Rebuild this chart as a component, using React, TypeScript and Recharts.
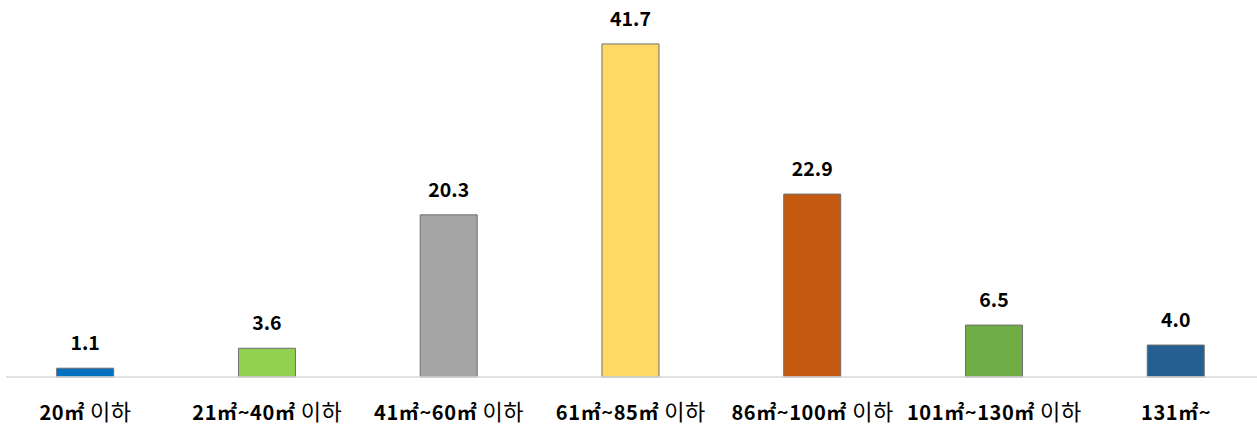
import React from "react";
import { BarChart, Bar, XAxis, YAxis, Cell, LabelList } from "recharts";

const categories = ["20㎡ 이하", "21㎡~40㎡ 이하", "41㎡~60㎡ 이하", "61㎡~85㎡ 이하", "86㎡~100㎡ 이하", "101㎡~130㎡ 이하", "131㎡~"];
const values = [1.1, 3.6, 20.3, 41.7, 22.9, 6.5, 4.0];
const colors = ["#0070C0", "#92D050", "#A5A5A5", "#FFD966", "#C55A11", "#70AD47", "#255E91"];

const data = categories.map((name, i) => ({ name, value: values[i] }));

const FONT = "'Noto Sans CJK KR', 'Noto Sans', sans-serif";

function splitSegments(s: string) {
  const segs: { text: string; hangul: boolean }[] = [];
  for (const ch of s) {
    const h = /[\uAC00-\uD7A3]/.test(ch);
    const last = segs[segs.length - 1];
    if (last && last.hangul === h) last.text += ch;
    else segs.push({ text: ch, hangul: h });
  }
  return segs;
}

function Tick(props: any) {
  const { x, y, payload } = props;
  const segs = splitSegments(String(payload.value));
  return (
    <text x={x} y={y} textAnchor="middle" fill="#000" fontFamily={FONT} fontSize={20} letterSpacing={0.6}>
      {segs.map((s, i) => (
        <tspan key={i} fontWeight={s.hangul ? 400 : 700} fontSize={s.hangul ? 22 : 20}>
          {s.text}
        </tspan>
      ))}
    </text>
  );
}

export default function App() {
  return (
    <div style={{ position: "absolute", left: 0, top: 0, width: 1257, height: 425, overflow: "hidden", background: "#fff" }}>
      <BarChart
        width={1257}
        height={425}
        data={data}
        margin={{ top: 17.6, right: 0, left: 6, bottom: 0 }}
      >
        <XAxis
          dataKey="name"
          interval={0}
          padding={{ left: -11.3, right: -10 }}
          axisLine={{ stroke: "#d9d9d9", strokeWidth: 1.5 }}
          tickLine={false}
          tickSize={0}
          tickMargin={43}
          height={48}
          tick={<Tick />}
        />
        <YAxis hide domain={[0, 45]} />
        <Bar dataKey="value" barSize={57} stroke="#6e6e6e" strokeWidth={1} isAnimationActive={false}>
          {data.map((d, i) => (
            <Cell key={d.name} fill={colors[i]} />
          ))}
          <LabelList
            dataKey="value"
            position="top"
            offset={18}
            formatter={(v: number) => v.toFixed(1)}
            style={{ fill: "#000", fontSize: 19.5, fontWeight: 700, fontFamily: FONT }}
          />
        </Bar>
      </BarChart>
    </div>
  );
}
